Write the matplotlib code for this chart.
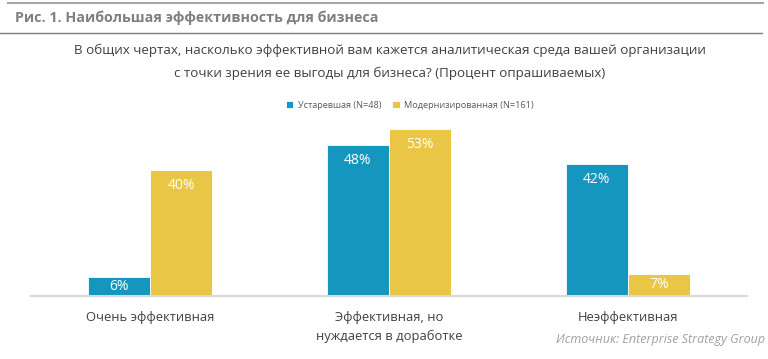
import matplotlib.pyplot as plt
import numpy as np

plt.rcParams['font.family'] = ['Open Sans', 'DejaVu Sans']

categories = ['Очень эффективная', 'Эффективная, но\nнуждается в доработке', 'Неэффективная']
series_names = ['Устаревшая (N=48)', 'Модернизированная (N=161)']
old_vals = [6, 48, 42]
new_vals = [40, 53, 7]

blue = '#1496be'
yellow = '#e9c645'

W, H = 768, 359
fig = plt.figure(figsize=(W / 100, H / 100), dpi=100)

# axes placed in pixel terms: x from 31 to 747, baseline at y=296
ax = fig.add_axes([31 / W, 63 / H, 716 / W, 173.25 / H])
x = np.arange(len(categories))
bw = 0.26
b1 = ax.bar(x - bw / 2, old_vals, bw, color=blue, edgecolor='white', linewidth=0.6)
b2 = ax.bar(x + bw / 2, new_vals, bw, color=yellow, edgecolor='white', linewidth=0.6)
ax.set_xlim(-0.5, 2.5)
ax.set_ylim(0, 55)

for bars, vals in ((b1, old_vals), (b2, new_vals)):
    for r, v in zip(bars, vals):
        ax.text(r.get_x() + r.get_width() / 2, max(v - 5, v / 2), f'{v}%',
                ha='center', va='center', color='white', fontsize=10)

for s in ['top', 'right', 'left']:
    ax.spines[s].set_visible(False)
ax.spines['bottom'].set_color('#d9d9d9')
ax.spines['bottom'].set_linewidth(1.5)
ax.set_yticks([])
ax.set_xticks(x)
ax.set_xticklabels(categories, fontsize=9.4, color='#404040', linespacing=1.5)
ax.tick_params(axis='x', length=0, pad=11)

# header lines and title
fig.add_artist(plt.Line2D([8 / W, 763 / W], [1 - 3 / H, 1 - 3 / H], color='#a6a6a6', linewidth=1.5))
fig.add_artist(plt.Line2D([0 / W, 762 / W], [1 - 33 / H, 1 - 33 / H], color='#7f7f7f', linewidth=1))
fig.text(15 / W, 1 - 18 / H, 'Рис. 1. Наибольшая эффективность для бизнеса',
         fontsize=10.3, fontweight='bold', color='#7f7f7f', va='center')

fig.text(390 / W, 1 - 50 / H,
         'В общих чертах, насколько эффективной вам кажется аналитическая среда вашей организации',
         fontsize=9.6, color='#404040', ha='center', va='center')
fig.text(390 / W, 1 - 73 / H,
         'с точки зрения ее выгоды для бизнеса? (Процент опрашиваемых)',
         fontsize=9.6, color='#404040', ha='center', va='center')

leg = fig.legend([b1, b2], series_names, loc='center', bbox_to_anchor=(410 / W, 1 - 105 / H),
                 ncol=2, frameon=False, fontsize=6.6, handlelength=0.8, handleheight=0.8,
                 handletextpad=0.5, columnspacing=1.2)
for t in leg.get_texts():
    t.set_color('#595959')

fig.text(765 / W, 1 - 339 / H, 'Источник: Enterprise Strategy Group',
         fontsize=9, style='italic', color='#a0a0a0', ha='right', va='center')

fig.savefig('out.png', dpi=100)
